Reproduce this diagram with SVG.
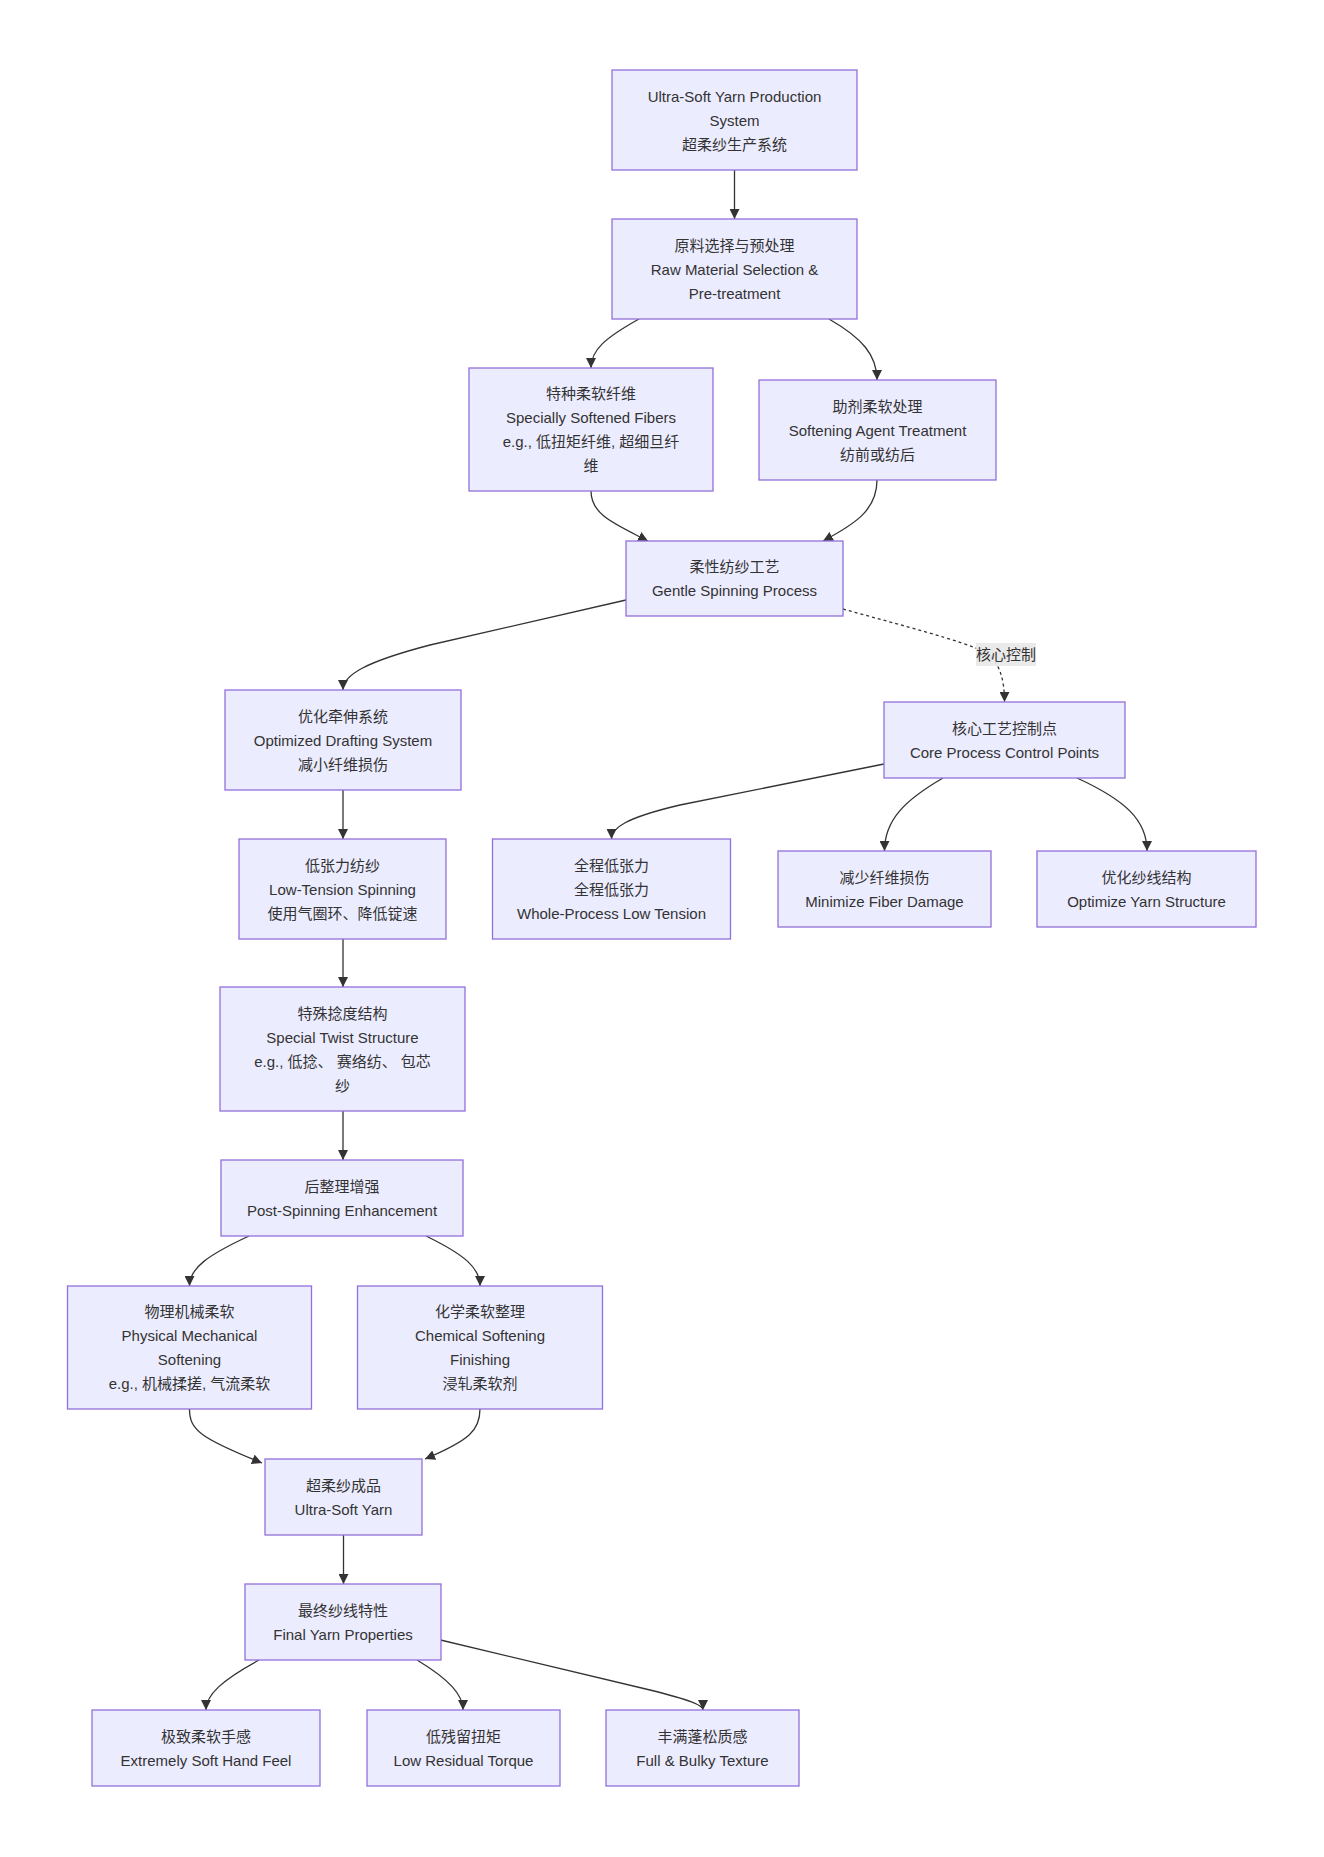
<svg xmlns="http://www.w3.org/2000/svg" width="1324" height="1857" viewBox="0 0 1324 1857">
<style>
.node rect{fill:#ECECFF;stroke:#9370DB;stroke-width:1.3}
text{font-family:"Liberation Sans","Noto Sans CJK SC",sans-serif;font-size:15px;fill:#333;text-anchor:middle;dominant-baseline:central}
.edge{fill:none;stroke:#333;stroke-width:1.3;marker-end:url(#arrow)}
.dotted{stroke-dasharray:3 3}
.lbl{fill:#e8e8e8;opacity:0.9}
</style>
<defs>
<marker id="arrow" viewBox="0 0 10 10" refX="10" refY="5" markerUnits="userSpaceOnUse" markerWidth="10" markerHeight="10" orient="auto">
<path d="M0,0 L10,5 L0,10 z" fill="#333"/>
</marker>
</defs>
<rect width="1324" height="1857" fill="#fff"/>
<g id="connectors">
<path class="edge" d="M734.5,170 L734.5,219"/>
<path class="edge" d="M639,319 C605,338 591,350 591,368"/>
<path class="edge" d="M829,319 C862,338 877,355 877,380"/>
<path class="edge" d="M591,491 C591,515 615,524 648,541"/>
<path class="edge" d="M877,480 C877,510 855,524 823,541"/>
<path class="edge" d="M626,600 L430,645 C365,662 343,675 343,690"/>
<path class="edge dotted" d="M843,609 C900,625 960,640 985,652 C1000,662 1004.5,680 1004.5,702"/>
<path class="edge" d="M343,790 L343,839"/>
<path class="edge" d="M884,764 L680,805 C625,818 611.5,828 611.5,839"/>
<path class="edge" d="M943,778 C905,800 884.5,820 884.5,851"/>
<path class="edge" d="M1077,778 C1125,800 1147,820 1147,851"/>
<path class="edge" d="M343,939 L343,987"/>
<path class="edge" d="M343,1111 L343,1160"/>
<path class="edge" d="M249,1236 C208,1255 189.5,1268 189.5,1286"/>
<path class="edge" d="M426,1236 C465,1255 480,1268 480,1286"/>
<path class="edge" d="M189.5,1409 C189.5,1430 200,1438 262,1463"/>
<path class="edge" d="M480,1409 C480,1430 470,1440 425,1459"/>
<path class="edge" d="M343.5,1535 L343.5,1584"/>
<path class="edge" d="M259,1660 C222,1680 206,1695 206,1710"/>
<path class="edge" d="M417,1660 C450,1680 463,1695 463,1710"/>
<path class="edge" d="M440.5,1640 L650,1690 C690,1700 703,1705 703,1710"/>
<rect class="lbl" x="976" y="643" width="60" height="23"/>
<text x="1006" y="654.5">核心控制</text>
</g>
<g id="n1" class="node"><rect x="612" y="70" width="245" height="100"/>
<text x="734.5" y="96">Ultra-Soft Yarn Production</text><text x="734.5" y="120">System</text><text x="734.5" y="144">超柔纱生产系统</text></g>
<g id="n2" class="node"><rect x="612" y="219" width="245" height="100"/>
<text x="734.5" y="245">原料选择与预处理</text><text x="734.5" y="269">Raw Material Selection &amp;</text><text x="734.5" y="293">Pre-treatment</text></g>
<g id="n3" class="node"><rect x="469" y="368" width="244" height="123"/>
<text x="591" y="393.5">特种柔软纤维</text><text x="591" y="417.5">Specially Softened Fibers</text><text x="591" y="441.5">e.g., 低扭矩纤维, 超细旦纤</text><text x="591" y="465.5">维</text></g>
<g id="n4" class="node"><rect x="759" y="380" width="237" height="100"/>
<text x="877.5" y="406">助剂柔软处理</text><text x="877.5" y="430">Softening Agent Treatment</text><text x="877.5" y="454">纺前或纺后</text></g>
<g id="n5" class="node"><rect x="626" y="541" width="217" height="75"/>
<text x="734.5" y="566.5">柔性纺纱工艺</text><text x="734.5" y="590.5">Gentle Spinning Process</text></g>
<g id="n6" class="node"><rect x="225" y="690" width="236" height="100"/>
<text x="343" y="716">优化牵伸系统</text><text x="343" y="740">Optimized Drafting System</text><text x="343" y="764">减小纤维损伤</text></g>
<g id="n7" class="node"><rect x="884" y="702" width="241" height="76"/>
<text x="1004.5" y="728">核心工艺控制点</text><text x="1004.5" y="752">Core Process Control Points</text></g>
<g id="n8" class="node"><rect x="239" y="839" width="207" height="100"/>
<text x="342.5" y="865">低张力纺纱</text><text x="342.5" y="889">Low-Tension Spinning</text><text x="342.5" y="913">使用气圈环、降低锭速</text></g>
<g id="n9" class="node"><rect x="492.5" y="839" width="238" height="100"/>
<text x="611.5" y="865">全程低张力</text><text x="611.5" y="889">全程低张力</text><text x="611.5" y="913">Whole-Process Low Tension</text></g>
<g id="n10" class="node"><rect x="778" y="851" width="213" height="76"/>
<text x="884.5" y="877">减少纤维损伤</text><text x="884.5" y="901">Minimize Fiber Damage</text></g>
<g id="n11" class="node"><rect x="1037" y="851" width="219" height="76"/>
<text x="1146.5" y="877">优化纱线结构</text><text x="1146.5" y="901">Optimize Yarn Structure</text></g>
<g id="n12" class="node"><rect x="220" y="987" width="245" height="124"/>
<text x="342.5" y="1013">特殊捻度结构</text><text x="342.5" y="1037">Special Twist Structure</text><text x="342.5" y="1061">e.g., 低捻、 赛络纺、 包芯</text><text x="342.5" y="1085">纱</text></g>
<g id="n13" class="node"><rect x="221" y="1160" width="242" height="76"/>
<text x="342" y="1186">后整理增强</text><text x="342" y="1210">Post-Spinning Enhancement</text></g>
<g id="n14" class="node"><rect x="67.5" y="1286" width="244" height="123"/>
<text x="189.5" y="1311.5">物理机械柔软</text><text x="189.5" y="1335.5">Physical Mechanical</text><text x="189.5" y="1359.5">Softening</text><text x="189.5" y="1383.5">e.g., 机械揉搓, 气流柔软</text></g>
<g id="n15" class="node"><rect x="357.5" y="1286" width="245" height="123"/>
<text x="480" y="1311.5">化学柔软整理</text><text x="480" y="1335.5">Chemical Softening</text><text x="480" y="1359.5">Finishing</text><text x="480" y="1383.5">浸轧柔软剂</text></g>
<g id="n16" class="node"><rect x="265" y="1459" width="157" height="76"/>
<text x="343.5" y="1485">超柔纱成品</text><text x="343.5" y="1509">Ultra-Soft Yarn</text></g>
<g id="n17" class="node"><rect x="245" y="1584" width="196" height="76"/>
<text x="343" y="1610">最终纱线特性</text><text x="343" y="1634">Final Yarn Properties</text></g>
<g id="n18" class="node"><rect x="92" y="1710" width="228" height="76"/>
<text x="206" y="1736">极致柔软手感</text><text x="206" y="1760">Extremely Soft Hand Feel</text></g>
<g id="n19" class="node"><rect x="367" y="1710" width="193" height="76"/>
<text x="463.5" y="1736">低残留扭矩</text><text x="463.5" y="1760">Low Residual Torque</text></g>
<g id="n20" class="node"><rect x="606" y="1710" width="193" height="76"/>
<text x="702.5" y="1736">丰满蓬松质感</text><text x="702.5" y="1760">Full &amp; Bulky Texture</text></g>
</svg>
